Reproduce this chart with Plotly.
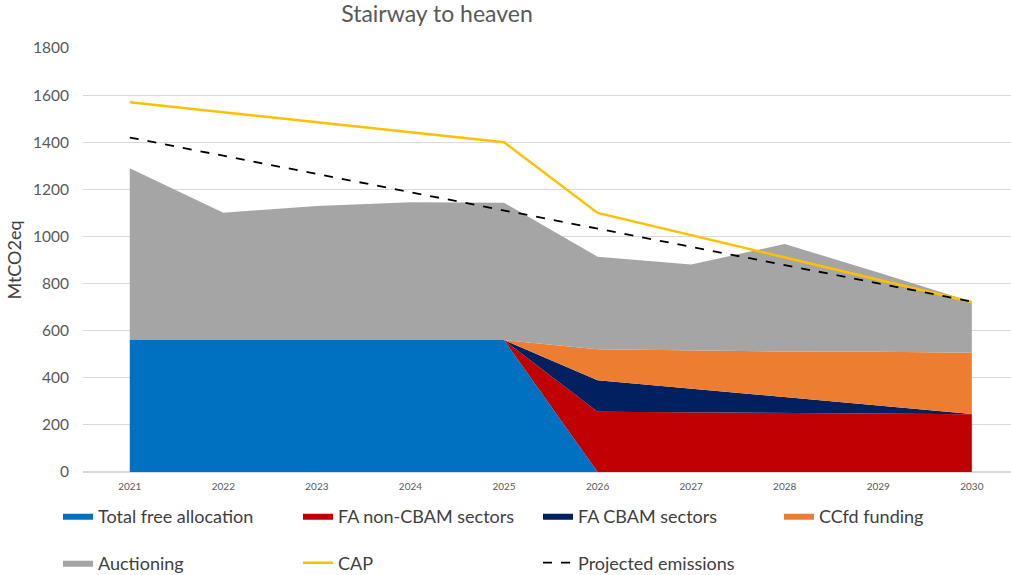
import plotly.graph_objects as go

years = [2021, 2022, 2023, 2024, 2025, 2026, 2027, 2028, 2029, 2030]
year_labels = [str(y) for y in years]

total_free_allocation = [560, 560, 560, 560, 560, 0, 0, 0, 0, 0]
fa_non_cbam = [0, 0, 0, 0, 0, 256, 253, 250, 248, 245]
fa_cbam = [0, 0, 0, 0, 0, 134, 101, 67, 33, 1]
ccfd_funding = [0, 0, 0, 0, 0, 131, 161, 195, 229, 260]
auctioning = [730, 541, 569, 585, 583, 393, 366, 456, 337, 217]
cap = [1570, 1527, 1485, 1442, 1400, 1100, 1005, 910, 815, 722]
projected_emissions = [1420, 1343, 1265, 1188, 1110, 1033, 956, 878, 801, 723]

areas = [
    ("Total free allocation", total_free_allocation, "#0070C0", "legend"),
    ("FA non-CBAM sectors", fa_non_cbam, "#C00000", "legend"),
    ("FA CBAM sectors", fa_cbam, "#002060", "legend"),
    ("CCfd funding", ccfd_funding, "#ED7D31", "legend3"),
    ("Auctioning", auctioning, "#A5A5A5", "legend2"),
]

fig = go.Figure()
for name, vals, col, lg in areas:
    fig.add_trace(go.Scatter(
        x=years, y=vals, name=name, mode="lines", stackgroup="one",
        line=dict(width=0, color=col), fillcolor=col, legend=lg,
    ))

fig.add_trace(go.Scatter(
    x=years, y=cap, name="CAP", mode="lines",
    line=dict(color="#FFC000", width=2.5), legend="legend2",
))
fig.add_trace(go.Scatter(
    x=years, y=projected_emissions, name="Projected emissions", mode="lines",
    line=dict(color="#000000", width=1.8, dash="dash"), legend="legend2",
))

PW = 928
legend_font = dict(family="Lato, sans-serif", size=18, color="#404040")
row1_y = -(516 - 472) / 424
row2_y = -(563 - 472) / 424


def lg(x_px, y):
    return dict(orientation="h", x=(x_px - 83) / PW, xanchor="left", y=y, yanchor="middle",
                entrywidth=195, entrywidthmode="pixels", font=legend_font, traceorder="normal",
                bgcolor="rgba(0,0,0,0)")


fig.update_layout(
    width=1011, height=575,
    margin=dict(l=83, r=0, t=48, b=103, autoexpand=False),
    paper_bgcolor="white", plot_bgcolor="white",
    title=dict(text="Stairway to heaven", x=437 / 1011, xanchor="center", y=1 - 14 / 575, yanchor="middle",
               font=dict(family="Lato, sans-serif", size=23, color="#595959")),
    showlegend=True,
    legend=lg(58, row1_y),
    legend2=lg(58, row2_y),
    legend3=lg(779, row1_y),
    xaxis=dict(range=[2020.5, 2020.5 + PW / 93.56], tickmode="array", tickvals=years, ticktext=year_labels,
               showgrid=False, zeroline=False, showline=False, ticks="", automargin=False,
               ticklabelstandoff=7,
               tickfont=dict(family="Lato, sans-serif", size=10, color="#595959")),
    yaxis=dict(range=[0, 1800], tickmode="array", tickvals=list(range(0, 1801, 200)),
               showgrid=True, gridcolor="#D9D9D9", gridwidth=1, zeroline=True, zerolinecolor="#D9D9D9",
               showline=False, ticks="", ticklabelstandoff=13, automargin=False,
               tickfont=dict(family="Lato, sans-serif", size=15.5, color="#595959"),
               title=dict(text="MtCO2eq", standoff=6, font=dict(family="Lato, sans-serif", size=18, color="#404040"))),
)

fig.write_html("out.html", config={"displayModeBar": False},
               post_script="document.body.style.margin='0';document.body.style.overflow='hidden';")
